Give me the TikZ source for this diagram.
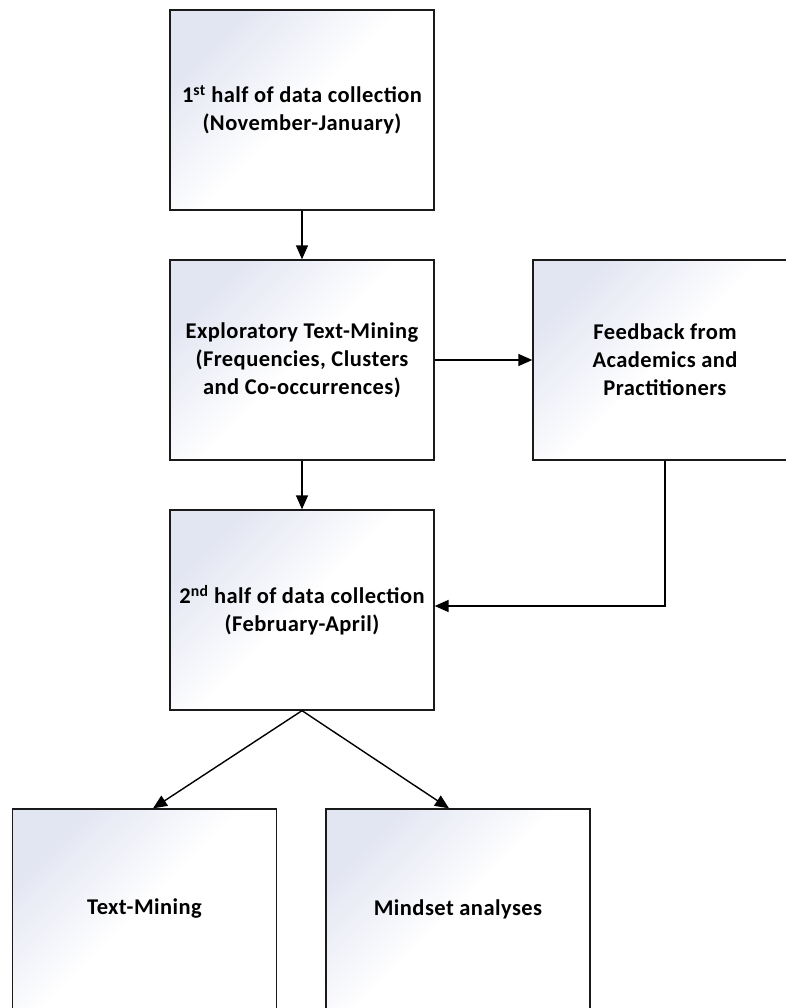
\documentclass[tikz,border=0pt]{standalone}
\usepackage{fontspec}
\setmainfont{Carlito}[LetterSpace=2]
\usepackage{tikz}
\usetikzlibrary{arrows.meta,positioning,calc}
\definecolor{boxtint}{HTML}{E2E5F2}
\definecolor{boxline}{HTML}{1A1A1A}
\tikzset{
  >={Triangle[length=14pt,width=12pt]},
  % boxes
  stage/.style={rectangle,draw=boxline,line width=1.3pt,minimum width=264pt,
                minimum height=200pt,inner sep=4pt,align=center,
                top color=boxtint,bottom color=white,middle color=white,
                shading angle=45,
                font=\bfseries\fontsize{22.5}{28}\selectfont},
  % arrows
  flow/.style={->,draw=black,line width=1.4pt},
}
\begin{document}
\begin{tikzpicture}[x=1pt,y=-1pt]
  \clip (0,0) rectangle (786,1008);
  \node[stage] (h1) at (302,110) {1\textsuperscript{st} half of data collection\\(November-January)};
  \node[stage] (ex) at (302,360) {Exploratory Text-Mining\\(Frequencies, Clusters\\and Co-occurrences)};
  \node[stage] (fb) at (665,360) {Feedback from\\Academics and\\Practitioners};
  \node[stage] (h2) at (302,610) {2\textsuperscript{nd} half of data collection\\(February-April)};
  \node[stage] (tm) at (144.5,909) {Text-Mining};
  \node[stage] (ms) at (458,909) {Mindset analyses};
  \draw[flow] (h1) -- (ex);
  \draw[flow] (ex) -- (fb);
  \draw[flow] (ex) -- (h2);
  \draw[flow] (fb.south) |- ([yshift=4pt]h2.east);
  \draw[flow] (h2.south) -- ([xshift=8.5pt]tm.north);
  \draw[flow] (h2.south) -- ([xshift=-9pt]ms.north);
\end{tikzpicture}
\end{document}
